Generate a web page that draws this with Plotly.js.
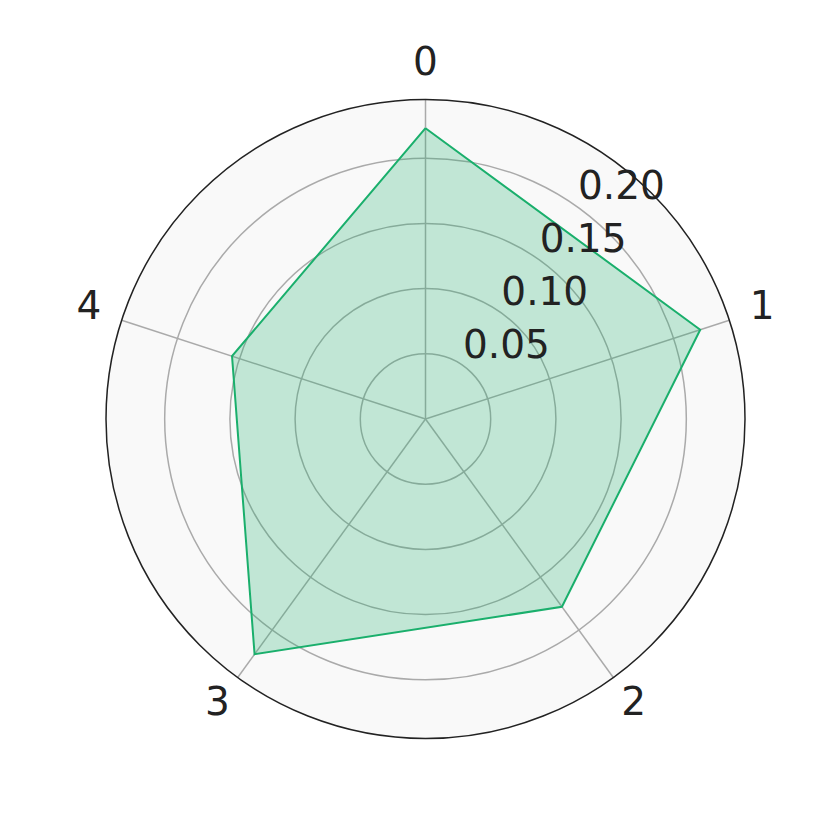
<!DOCTYPE html>
<html>
<head>
<meta charset="utf-8">
<script src="https://cdn.plot.ly/plotly-3.0.1.min.js"></script>
<style>html,body{margin:0;padding:0;background:#fff;}#chart{width:830px;height:830px;}</style>
</head>
<body>
<div id="chart"></div>
<script>
const categories = ["0", "1", "2", "3", "4"];
const values = [0.223, 0.2215, 0.178, 0.223, 0.156];
const radialTicks = [0.05, 0.10, 0.15, 0.20];
const radialTickText = ["0.05", "0.10", "0.15", "0.20"];

const theta = categories.concat([categories[0]]);
const r = values.concat([values[0]]);

const RMAX = 0.245;
const px = v => v / 830;
// main plot circle: center (425.5, 419) screen, radius 319.5
const mainDom = {x: [px(106), px(745)], y: [px(91), px(731)]};
// radial tick-label overlay: same scale, shifted (-17, -40) px
const tickDom = {x: [px(89), px(728)], y: [px(131), px(771)]};
// category-label overlay: same centre & scale, larger circle
const bigR = 380;
const labDom = {x: [px(425.5 - bigR), px(425.5 + bigR)], y: [px(411 - bigR), px(411 + bigR)]};
const labRange = RMAX * bigR / 319.5;
const labelR = RMAX * 354 / 319.5;

const trace = {
  type: "scatterpolar",
  subplot: "polar",
  r: r,
  theta: theta,
  mode: "lines",
  fill: "toself",
  fillcolor: "rgba(26,175,108,0.25)",
  line: {color: "#1aaf6c", width: 2},
  hoverinfo: "skip"
};

const tickHolder = {
  type: "scatterpolar",
  subplot: "polar2",
  r: [],
  theta: [],
  mode: "markers",
  hoverinfo: "skip"
};

const labelTrace = {
  type: "scatterpolar",
  subplot: "polar3",
  r: categories.map(() => labelR),
  theta: categories,
  mode: "text",
  text: categories,
  textposition: "middle center",
  textfont: {size: 39, color: "#222222", family: "DejaVu Sans"},
  cliponaxis: false,
  hoverinfo: "skip"
};

const angBase = {
  type: "category",
  categoryarray: categories,
  rotation: 90,
  direction: "clockwise"
};

const layout = {
  width: 830, height: 830,
  margin: {l: 0, r: 0, t: 0, b: 0},
  paper_bgcolor: "#ffffff",
  showlegend: false,
  font: {family: "DejaVu Sans", color: "#222222", size: 39},
  polar: {
    domain: mainDom,
    bgcolor: "#f9f9f9",
    angularaxis: Object.assign({}, angBase, {
      showline: true,
      linecolor: "#222222",
      linewidth: 1.5,
      gridcolor: "#aaaaaa",
      gridwidth: 1.5,
      ticks: "",
      showticklabels: false
    }),
    radialaxis: {
      range: [0, RMAX],
      tickvals: radialTicks,
      showticklabels: false,
      angle: 54,
      showline: false,
      ticks: "",
      gridcolor: "#aaaaaa",
      gridwidth: 1.5,
      layer: "above traces"
    }
  },
  polar2: {
    domain: tickDom,
    bgcolor: "rgba(0,0,0,0)",
    angularaxis: Object.assign({}, angBase, {
      showline: false, showgrid: false, ticks: "", showticklabels: false
    }),
    radialaxis: {
      range: [0, RMAX],
      tickvals: radialTicks,
      ticktext: radialTickText,
      angle: 54,
      tickangle: 54,
      showline: false,
      showgrid: false,
      ticks: "",
      tickfont: {size: 39, color: "#222222", family: "DejaVu Sans"}
    }
  },
  polar3: {
    domain: labDom,
    bgcolor: "rgba(0,0,0,0)",
    angularaxis: Object.assign({}, angBase, {
      showline: false, showgrid: false, ticks: "", showticklabels: false
    }),
    radialaxis: {
      range: [0, labRange],
      showline: false, showgrid: false, ticks: "", showticklabels: false
    }
  }
};

Plotly.newPlot("chart", [trace, tickHolder, labelTrace], layout, {staticPlot: true});
</script>
</body>
</html>
